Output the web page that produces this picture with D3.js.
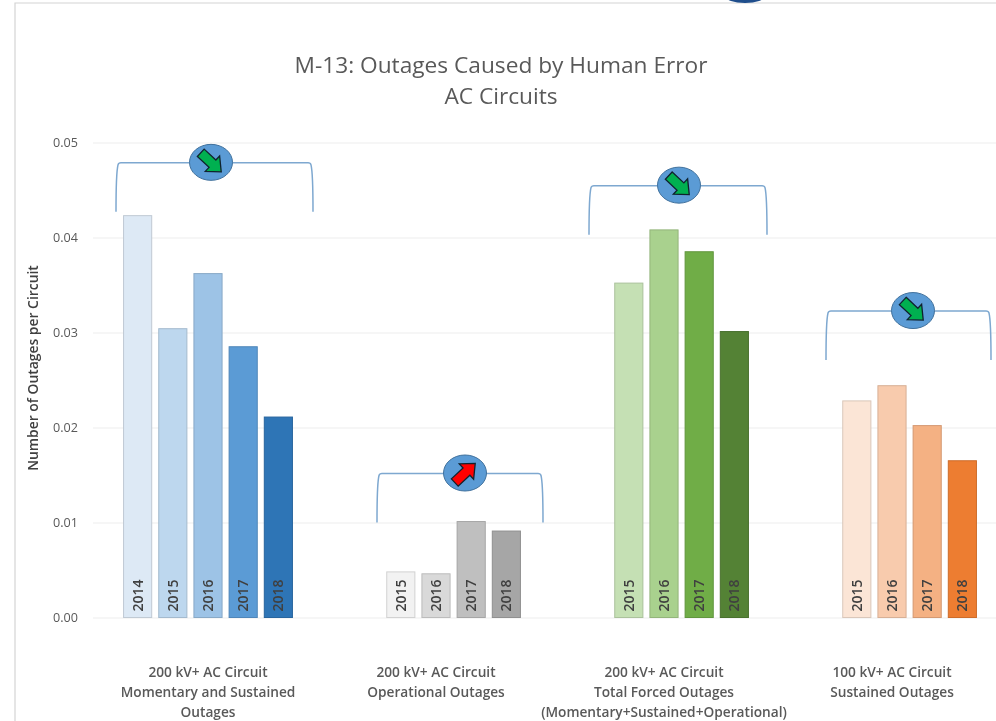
<!DOCTYPE html>
<html>
<head>
<meta charset="utf-8">
<script src="https://cdn.jsdelivr.net/npm/d3@7"></script>
<style>
  html, body { margin: 0; background: #fff; }
  svg { display: block; filter: blur(0.45px); }
  text { font-family: "Open Sans", "Noto Sans", sans-serif; }
</style>
</head>
<body>
<div id="chart"></div>
<script>
// values
const years = ['2014', '2015', '2016', '2017', '2018'];
const categories = ['momentary', 'operational', 'forced', 'sustained'];
const categoryLabels = [
  ['200 kV+ AC Circuit', 'Momentary and Sustained', 'Outages'],
  ['200 kV+ AC Circuit', 'Operational Outages'],
  ['200 kV+ AC Circuit', 'Total Forced Outages', '(Momentary+Sustained+Operational)'],
  ['100 kV+ AC Circuit', 'Sustained Outages']
];
const momentary = [0.0423, 0.0304, 0.0362, 0.0285, 0.0211];
const operational = [null, 0.0048, 0.0046, 0.0101, 0.0091];
const forced = [null, 0.0352, 0.0408, 0.0385, 0.0301];
const sustained = [null, 0.0228, 0.0244, 0.0202, 0.0165];
const seriesValues = [momentary, operational, forced, sustained];
const yTicks = [0, 0.01, 0.02, 0.03, 0.04, 0.05];
const trends = ['down', 'up', 'down', 'down'];
const bracketBase = [0.0427, 0.01, 0.0403, 0.0271];

const blues = ['#dde9f5', '#bdd7ee', '#9dc3e6', '#5b9bd5', '#2e75b6'];
const greys = [null, '#f2f2f2', '#d9d9d9', '#bfbfbf', '#a6a6a6'];
const greens = [null, '#c5e0b4', '#a9d18e', '#70ad47', '#548235'];
const oranges = [null, '#fbe5d6', '#f8cbad', '#f4b183', '#ed7d31'];
const palettes = [blues, greys, greens, oranges];

const width = 996;
const height = 721;

const svg = d3.select('#chart').append('svg')
  .attr('width', width)
  .attr('height', height);

// frame of the screenshot
svg.append('path')
  .attr('d', 'M15,' + height + 'V3H' + width)
  .attr('fill', 'none')
  .attr('stroke', '#d4d4d4')
  .attr('stroke-width', 1.2);
svg.append('ellipse')
  .attr('cx', 745).attr('cy', -4)
  .attr('rx', 20).attr('ry', 7)
  .attr('fill', '#1f4e8c');

const x0 = d3.scaleBand().domain(categories).range([94, 1006]);
const x1 = d3.scaleBand().domain(years).range([0, x0.bandwidth()])
  .paddingInner(0.2)
  .paddingOuter(0.84);
const y = d3.scaleLinear().domain([0, 0.05]).range([617.5, 142.5]);

// title
svg.append('text')
  .attr('x', 501).attr('y', 73)
  .attr('text-anchor', 'middle')
  .attr('font-size', 22.7)
  .attr('fill', '#595959')
  .text('M-13: Outages Caused by Human Error');
svg.append('text')
  .attr('x', 501).attr('y', 104)
  .attr('text-anchor', 'middle')
  .attr('font-size', 22.7)
  .attr('fill', '#595959')
  .text('AC Circuits');

// gridlines and tick labels
const yAxisGrid = d3.axisLeft(y)
  .tickValues(yTicks)
  .tickSize(-(width - 93))
  .tickFormat('');
svg.append('g')
  .attr('class', 'y grid')
  .attr('transform', 'translate(93,0)')
  .call(yAxisGrid)
  .call(g => g.select('.domain').remove())
  .call(g => g.selectAll('line').attr('stroke', '#eeeeee').attr('stroke-width', 1.2));

const yAxis = d3.axisLeft(y)
  .tickValues(yTicks)
  .tickSize(0)
  .tickPadding(0)
  .tickFormat(d3.format('.2f'));
svg.append('g')
  .attr('class', 'y axis')
  .attr('transform', 'translate(78,0)')
  .call(yAxis)
  .call(g => g.select('.domain').remove())
  .call(g => g.selectAll('text')
    .attr('font-size', 12.6)
    .attr('font-family', '"Open Sans", sans-serif')
    .attr('fill', '#595959'));

svg.append('text')
  .attr('transform', 'translate(38,368) rotate(-90)')
  .attr('text-anchor', 'middle')
  .attr('font-size', 13.9)
  .attr('font-weight', 600)
  .attr('fill', '#404040')
  .text('Number of Outages per Circuit');

// bars
const groups = svg.selectAll('g.group')
  .data(categories)
  .join('g')
  .attr('class', 'group')
  .attr('transform', d => 'translate(' + x0(d) + ',0)');

const cells = groups.selectAll('g.cell')
  .data((d, i) => years.map((year, j) => ({
    year: year,
    value: seriesValues[i][j],
    color: palettes[i][j]
  })).filter(d => d.value !== null))
  .join('g')
  .attr('class', 'cell');

cells.append('rect')
  .attr('x', d => x1(d.year))
  .attr('y', d => y(d.value))
  .attr('width', x1.bandwidth())
  .attr('height', d => y(0) - y(d.value))
  .attr('fill', d => d.color)
  .attr('stroke', d => d3.color(d.color).darker(0.4).formatHex())
  .attr('stroke-width', 1);

cells.append('text')
  .attr('transform', d => 'translate(' + (x1(d.year) + x1.bandwidth() / 2 + 5) + ',' + (y(0) - 6) + ') rotate(-90)')
  .attr('font-size', 14)
  .attr('font-weight', 600)
  .attr('fill', '#404040')
  .text(d => d.year);

// category labels
const labels = svg.selectAll('text.category')
  .data(categories)
  .join('text')
  .attr('class', 'category')
  .attr('text-anchor', 'middle')
  .attr('font-size', 13.7)
  .attr('font-weight', 600)
  .attr('fill', '#595959');

labels.selectAll('tspan')
  .data((d, i) => categoryLabels[i].map(line => ({ line: line, cat: d })))
  .join('tspan')
  .attr('x', d => x0(d.cat) + x0.bandwidth() / 2)
  .attr('y', (d, i) => 677 + i * 19.8)
  .text(d => d.line);

// trend brackets with arrow badges
const bracketSpan = [[116, 313, 211], [377, 543, 465], [589, 767, 679], [826, 991, 913]];
const bracketHeight = 49;

const brackets = svg.selectAll('g.bracket')
  .data(categories)
  .join('g')
  .attr('class', 'bracket');

brackets.append('path')
  .attr('d', (d, i) => {
    const [l, r] = bracketSpan[i];
    const b = y(bracketBase[i]);
    const t = b - bracketHeight;
    return 'M' + l + ',' + b + 'Q' + l + ',' + (t + 10) + ' ' + (l + 2) + ',' + (t + 2)
      + 'Q' + (l + 2.5) + ',' + t + ' ' + (l + 5) + ',' + t
      + 'H' + (r - 5)
      + 'Q' + (r - 2.5) + ',' + t + ' ' + (r - 2) + ',' + (t + 2)
      + 'Q' + r + ',' + (t + 10) + ' ' + r + ',' + b;
  })
  .attr('fill', 'none')
  .attr('stroke', '#7ea8d0')
  .attr('stroke-width', 1.5);

const badges = brackets.append('g')
  .attr('transform', (d, i) => 'translate(' + bracketSpan[i][2] + ',' + (y(bracketBase[i]) - bracketHeight - 0.5) + ')');

badges.append('ellipse')
  .attr('rx', 21.5)
  .attr('ry', 18)
  .attr('fill', '#5b9bd5')
  .attr('stroke', '#41719c')
  .attr('stroke-width', 1);

// arrow drawn pointing right, then turned to the trend
badges.append('path')
  .attr('d', 'M-14,-5H2V-10.5L14,0L2,10.5V5H-14Z')
  .attr('transform', (d, i) => trends[i] === 'up' ? 'rotate(-43)' : 'rotate(43)')
  .attr('fill', (d, i) => trends[i] === 'up' ? '#ff0000' : '#00b050')
  .attr('stroke', '#10222e')
  .attr('stroke-width', 1.3)
  .attr('stroke-linejoin', 'miter');
</script>
</body>
</html>
